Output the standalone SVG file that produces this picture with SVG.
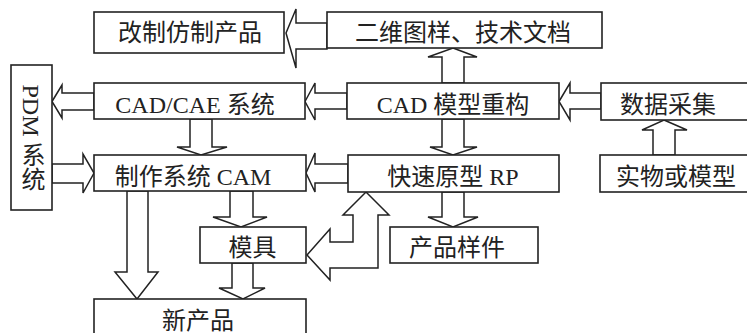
<svg xmlns="http://www.w3.org/2000/svg" width="747" height="333" viewBox="0 0 747 333">
<style>
.box{fill:#fff;stroke:#222;stroke-width:1.6}
.arr{fill:#fff;stroke:#222;stroke-width:1.5;stroke-linejoin:miter}
.t{font-family:"Liberation Serif","Noto Sans CJK SC",serif;font-size:24px;fill:#222;text-anchor:middle}
</style>
<rect width="747" height="333" fill="#fff"/>
<g id="connectors">
<polygon class="arr" points="286,33 296,9 296,23 327,23 327,49 296,49 296,68"/>
<polygon class="arr" points="52,101.5 62,85 62,93 94,93 94,110 62,110 62,118"/>
<polygon class="arr" points="305,101.5 315,83 315,93 347,93 347,109 315,109 315,120"/>
<polygon class="arr" points="559,101.5 570,83 570,93 601,93 601,109 570,109 570,120"/>
<polygon class="arr" points="453,48 477,57 464,57 464,83 442,83 442,57 428,57"/>
<polygon class="arr" points="442,119 464,119 464,147 477,147 453,155 430,147 442,147"/>
<polygon class="arr" points="190,119 212,119 212,147 227,147 201,155 177,147 190,147"/>
<polygon class="arr" points="52,164 83,164 83,154 94,173 83,193 83,183 52,183"/>
<polygon class="arr" points="306,173 315,153 315,164 348,164 348,183 315,183 315,192"/>
<polygon class="arr" points="664,120 687,130 675,130 675,155 653,155 653,130 642,130"/>
<polygon class="arr" points="230,191 253,191 253,217 267,217 241,227 213,217 230,217"/>
<polygon class="arr" points="442,192 464,192 464,217 478,217 453,227 428,217 442,217"/>
<polygon class="arr" points="232,263 253,263 253,288 265,288 243,299 219,288 232,288"/>
<polygon class="arr" points="127,191 148,191 148,272 158,272 137,299 115,272 127,272"/>
<polygon class="arr" points="307,255 330,229 330,242 353,242 353,215 343,215 366,192 389,215 378,215 378,268 330,268 330,280"/>
</g>
<g id="n_gaizhi"><rect class="box" x="94" y="12" width="190" height="41"/><text class="t" x="190" y="41">改制仿制产品</text></g>
<g id="n_erwei"><rect class="box" x="327" y="12" width="275" height="36"/><text class="t" x="463" y="41">二维图样、技术文档</text></g>
<g id="n_pdm"><rect class="box" x="11" y="65" width="41" height="145"/><text class="t" x="31" y="137.5" style="writing-mode:vertical-rl">PDM 系统</text></g>
<g id="n_cadcae"><rect class="box" x="94" y="83" width="211" height="36"/><text class="t" x="195" y="113">CAD/CAE 系统</text></g>
<g id="n_cadmodel"><rect class="box" x="347" y="83" width="212" height="36"/><text class="t" x="453" y="113">CAD 模型重构</text></g>
<g id="n_shuju"><rect class="box" x="601" y="83" width="150" height="37"/><text class="t" x="668" y="113">数据采集</text></g>
<g id="n_cam"><rect class="box" x="94" y="155" width="212" height="36"/><text class="t" x="193" y="185">制作系统 CAM</text></g>
<g id="n_rp"><rect class="box" x="348" y="155" width="211" height="37"/><text class="t" x="453" y="185">快速原型 RP</text></g>
<g id="n_shiwu"><rect class="box" x="600" y="155" width="150" height="37"/><text class="t" x="676" y="185">实物或模型</text></g>
<g id="n_muju"><rect class="box" x="200" y="227" width="106" height="36"/><text class="t" x="252.5" y="256">模具</text></g>
<g id="n_yangjian"><rect class="box" x="390" y="227" width="148" height="36"/><text class="t" x="457" y="256">产品样件</text></g>
<g id="n_xin"><rect class="box" x="94" y="299" width="212" height="40"/><text class="t" x="198" y="329">新产品</text></g>
</svg>
